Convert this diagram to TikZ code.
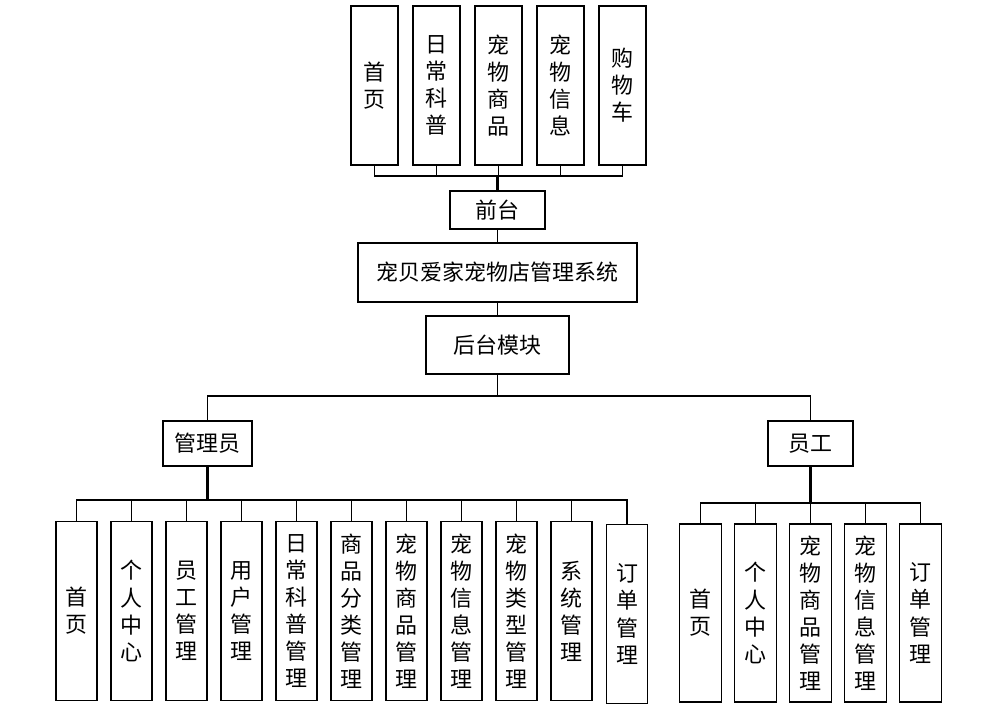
\documentclass[tikz,border=0pt]{standalone}
\usepackage{fontspec}
\newfontfamily\cjk{Noto Sans CJK SC}
\begin{document}
\begin{tikzpicture}[x=0.02cm,y=-0.02cm,
  box/.style={draw, line width=1pt, inner sep=0pt, align=center, fill=white,
    font=\cjk\fontsize{12.5}{15.4}\selectfont},
  topbox/.style={box, minimum width=0.94cm, minimum height=3.18cm},
  lbox/.style={box, minimum width=0.82cm, minimum height=3.58cm},
  rbox/.style={box, minimum width=0.84cm, minimum height=3.56cm},
  conn/.style={line width=0.8pt},
  stub/.style={line width=1.3pt}]
\useasboundingbox (0,0) rectangle (1000,708);
% top row
\node[topbox] (t1) at (374.5,85.5) {首\\页};
\node[topbox] (t2) at (436.5,85.5) {日\\常\\科\\普};
\node[topbox] (t3) at (498.5,85.5) {宠\\物\\商\\品};
\node[topbox] (t4) at (560.5,85.5) {宠\\物\\信\\息};
\node[topbox] (t5) at (622.5,85.5) {购\\物\\车};
\node[box, minimum width=1.9cm, minimum height=0.76cm] (qt) at (497.5,210) {前台};
\node[box, minimum width=5.58cm, minimum height=1.18cm] (sys) at (497.5,272.5) {宠贝爱家宠物店管理系统};
\node[box, minimum width=2.86cm, minimum height=1.16cm] (ht) at (497.5,345) {后台模块};
\node[box, minimum width=1.78cm, minimum height=0.9cm] (gly) at (207.5,443.5) {管理员};
\node[box, minimum width=1.7cm, minimum height=0.9cm] (yg) at (810.5,443.5) {员工};
% admin row
\node[lbox] (a1) at (76.5,611) {首\\页};
\node[lbox] (a2) at (131.5,611) {个\\人\\中\\心};
\node[lbox] (a3) at (186.5,611) {员\\工\\管\\理};
\node[lbox] (a4) at (241.5,611) {用\\户\\管\\理};
\node[lbox] (a5) at (296.5,611) {日\\常\\科\\普\\管\\理};
\node[lbox] (a6) at (351.5,611) {商\\品\\分\\类\\管\\理};
\node[lbox] (a7) at (406.5,611) {宠\\物\\商\\品\\管\\理};
\node[lbox] (a8) at (461.5,611) {宠\\物\\信\\息\\管\\理};
\node[lbox] (a9) at (516.5,611) {宠\\物\\类\\型\\管\\理};
\node[lbox] (a10) at (571.5,611) {系\\统\\管\\理};
\node[lbox] (a11) at (627,614) {订\\单\\管\\理};
% staff row
\node[rbox] (b1) at (700.5,613) {首\\页};
\node[rbox] (b2) at (755.5,613) {个\\人\\中\\心};
\node[rbox] (b3) at (810.5,613) {宠\\物\\商\\品\\管\\理};
\node[rbox] (b4) at (865.5,613) {宠\\物\\信\\息\\管\\理};
\node[rbox] (b5) at (920.5,613) {订\\单\\管\\理};
% buses
\coordinate (bus1) at (497.5,176);
\coordinate (bus2) at (497.5,396);
\coordinate (bus3) at (207.5,500);
\coordinate (bus4) at (810.5,503);
% top connectors
\draw[conn] (t1.south) |- (bus1) -| (t5.south);
\foreach \i in {2,3,4} \draw[conn] (t\i.south) -- (t\i.south |- bus1);
\draw[stub] (qt.north) -- (bus1);
\draw[conn] (qt.south) -- (sys.north);
\draw[conn] (sys.south) -- (ht.north);
\draw[conn] (ht.south) -- (bus2);
\draw[conn] (gly.north) |- (bus2) -| (yg.north);
% admin connectors
\draw[stub] (gly.south) -- (bus3);
\draw[conn] (a1.north) |- (bus3) -| (a11.north);
\foreach \i in {2,...,10} \draw[conn] (a\i.north) -- (a\i.north |- bus3);
% staff connectors
\draw[stub] (yg.south) -- (bus4);
\draw[conn] (b1.north) |- (bus4) -| (b5.north);
\foreach \i in {2,3,4} \draw[conn] (b\i.north) -- (b\i.north |- bus4);
\end{tikzpicture}
\end{document}
